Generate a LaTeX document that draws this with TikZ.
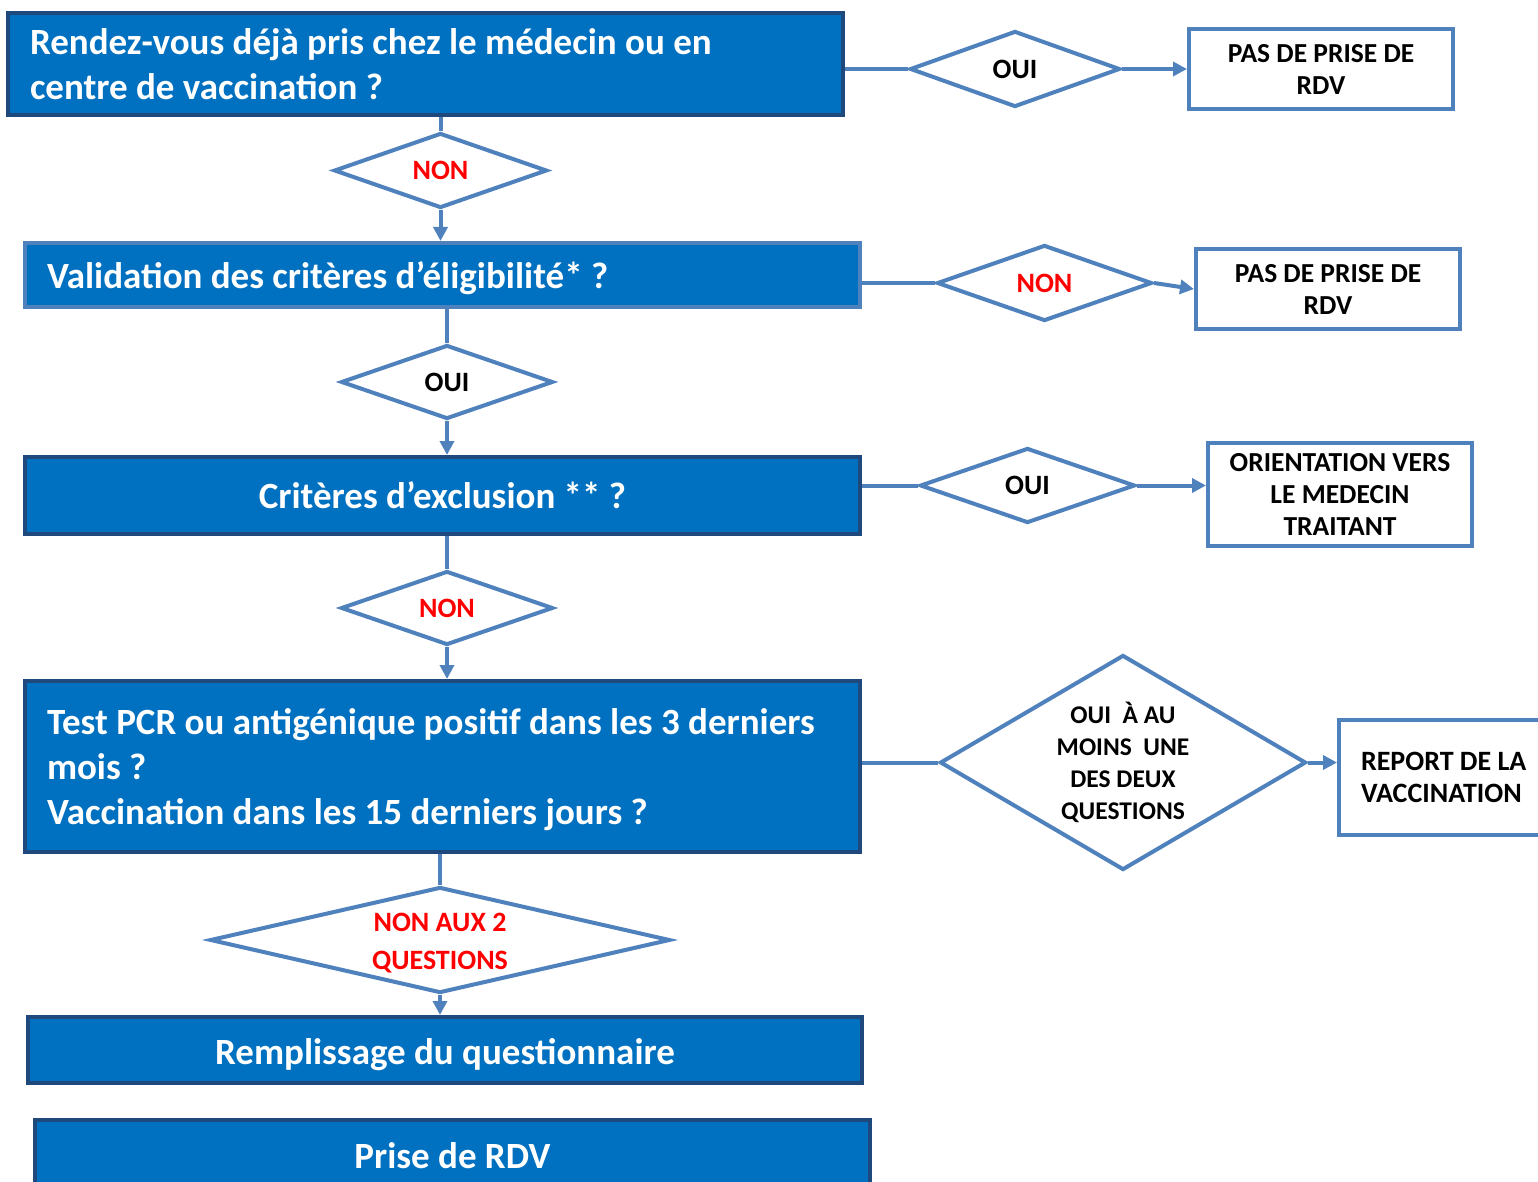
\documentclass[tikz,border=0pt]{standalone}
\usepackage{fontspec}
\setmainfont{Carlito}
\usetikzlibrary{shapes.geometric,arrows.meta}
\definecolor{boxfill}{HTML}{0070C0}
\definecolor{darkedge}{HTML}{1F497D}
\definecolor{conn}{HTML}{4F81BD}
\definecolor{redtxt}{HTML}{FF0000}
\newcommand{\lowr}[2]{\raisebox{-#1}[\height][\depth]{#2}}
\tikzset{
  every node/.style={execute at begin node={\spaceskip=0pt\xspaceskip=0pt\relax}},
  mainbox/.style={rectangle, fill=boxfill, draw=darkedge, line width=4pt, text=white,
    font=\fontsize{37}{45}\selectfont\bfseries, inner xsep=22pt, inner ysep=0pt},
  lightmain/.style={mainbox, draw=conn},
  sidebox/.style={rectangle, fill=white, draw=conn, line width=4pt, text=black,
    font=\fontsize{27.5}{32}\selectfont\bfseries, align=center, inner sep=0pt},
  decision/.style={diamond, fill=white, draw=conn, line width=4pt, inner sep=0pt,
    font=\fontsize{28}{34}\selectfont\bfseries, align=center},
  link/.style={draw=conn, line width=4pt},
  arrowlink/.style={link, -{Triangle[length=14pt,width=14pt]}},
}
\begin{document}
\begin{tikzpicture}[x=1pt,y=-1pt]
\useasboundingbox (0,0) rectangle (1538,1182);

% main column boxes
\node[mainbox, minimum width=835, minimum height=102, text width=791, align=left] (box1) at (425.5,64)
  {Rendez-vous déjà pris chez le médecin ou en\\centre de vaccination ?};
\node[lightmain, minimum width=835, minimum height=64, text width=791, align=left] (box2) at (442.5,275)
  {\lowr{3pt}{Validation des critères d’éligibilité* ?}};
\node[mainbox, minimum width=835, minimum height=77] (box3) at (442.5,495.5)
  {Critères d’exclusion ** ?};
\node[mainbox, minimum width=835, minimum height=171, text width=791, align=left] (box4) at (442.5,766.5)
  {\lowr{3pt}{Test PCR ou antigénique positif dans les 3 derniers}\\\lowr{3pt}{mois ?}\\\lowr{3pt}{Vaccination dans les 15 derniers jours ?}};
\node[mainbox, minimum width=834, minimum height=66] (box5) at (445,1050)
  {\lowr{5pt}{Remplissage du questionnaire}};
\node[mainbox, minimum width=835, minimum height=74] (box6) at (452.5,1157)
  {\lowr{-1pt}{Prise de RDV}};

% decisions in the column
\node[decision, minimum width=213, minimum height=75, aspect=2.84, text=redtxt] (d1) at (440.5,170.5) {NON};
\node[decision, minimum width=212, minimum height=74, aspect=2.86] (d2) at (447,382) {OUI};
\node[decision, minimum width=212, minimum height=74, aspect=2.86, text=redtxt] (d3) at (447,608) {NON};
\node[decision, minimum width=460, minimum height=106, aspect=4.34, text=redtxt,
      font=\fontsize{28}{38}\selectfont\bfseries] (d4) at (440,940) {\lowr{3pt}{NON AUX 2}\\\lowr{3pt}{QUESTIONS}};

% decisions on the right
\node[decision, minimum width=210, minimum height=76, aspect=2.76] (r1) at (1015,69) {OUI};
\node[decision, minimum width=215, minimum height=76, aspect=2.83, text=redtxt] (r2) at (1044.5,283) {NON};
\node[decision, minimum width=215, minimum height=75, aspect=2.87] (r3) at (1027.5,485.5) {OUI};
\node[decision, minimum width=366, minimum height=215, aspect=1.7,
      font=\fontsize{25.5}{32}\selectfont\bfseries] (r4) at (1123,762.5)
  {OUI \ À AU\\MOINS \ UNE\\DES DEUX\\QUESTIONS};

% outcome boxes
\node[sidebox, minimum width=264, minimum height=80] (b1) at (1321,69) {PAS DE PRISE DE\\RDV};
\node[sidebox, minimum width=264, minimum height=80] (b2) at (1328,289) {PAS DE PRISE DE\\RDV};
\node[sidebox, minimum width=264, minimum height=103] (b3) at (1340,494.5) {ORIENTATION VERS\\LE MEDECIN\\TRAITANT};
\node[sidebox, minimum height=115, text width=180, align=left, inner xsep=22pt,
      font=\fontsize{28}{32}\selectfont\bfseries] (b4) at (1451,777.5) {REPORT DE LA\\VACCINATION};

% connectors: column
\draw[link] (box1.south -| d1.north) -- (d1.north);
\draw[arrowlink] (d1.south) -- (d1.south |- box2.north);
\draw[link] (box2.south -| d2.north) -- (d2.north);
\draw[arrowlink] (d2.south) -- (d2.south |- box3.north);
\draw[link] (box3.south -| d3.north) -- (d3.north);
\draw[arrowlink] (d3.south) -- (d3.south |- box4.north);
\draw[link] (box4.south -| d4.north) -- (d4.north);
\draw[arrowlink] (d4.south) -- (d4.south |- box5.north);

% connectors: right branches
\draw[link] (r1.west -| box1.east) -- (r1.west);
\draw[arrowlink] (r1.east) -- (b1.west);
\draw[link] (r2.west -| box2.east) -- (r2.west);
\draw[arrowlink] (r2.east) -- (b2.west);
\draw[link] (r3.west -| box3.east) -- (r3.west);
\draw[arrowlink] (r3.east) -- (r3.east -| b3.west);
\draw[link] (r4.west -| box4.east) -- (r4.west);
\draw[arrowlink] (r4.east) -- (r4.east -| b4.west);
\end{tikzpicture}
\end{document}
